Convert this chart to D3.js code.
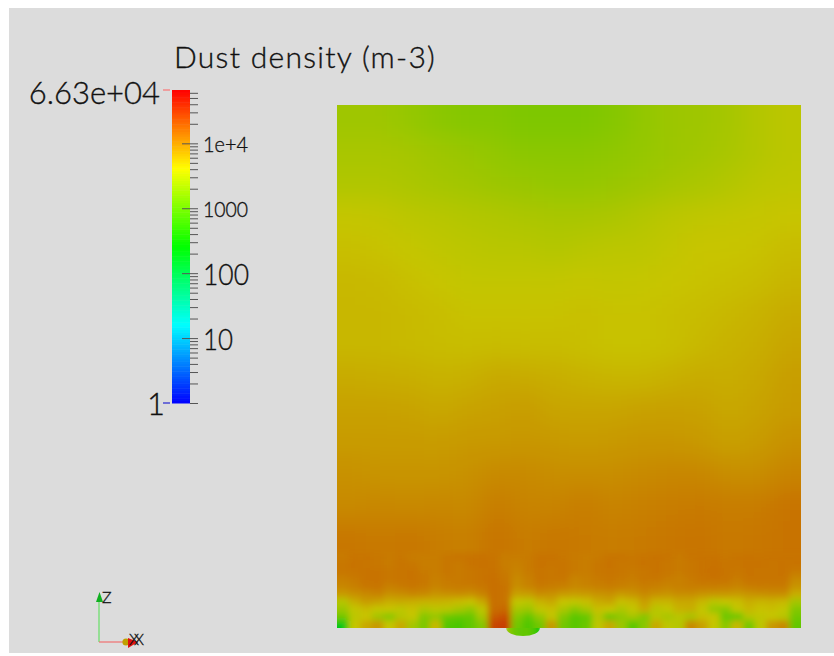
<!DOCTYPE html>
<html lang="en">
<head>
<meta charset="utf-8">
<title>Dust density</title>
<style>
  html, body { margin:0; padding:0; background:white; }
  svg { display:block; }
  text { font-family:Lato, sans-serif; font-weight:300; fill:#111; stroke:#111; stroke-width:0.35px; }
</style>
</head>
<body>
<div id="canvas"></div>
<script src="https://cdnjs.cloudflare.com/ajax/libs/d3/7.8.5/d3.min.js"></script>
<script>
// colour bar
var title = "Dust density (m-3)";
var rangeMin = 1, rangeMax = 66300;
var rangeLabels = ["6.63e+04", "1"];
var majorTicks = [10, 100, 1000, 10000];
var majorLabels = ["10", "100", "1000", "1e+4"];
var minorTicks = [2,3,4,5,6,7,8,9,20,30,40,50,60,70,80,90,200,300,400,500,600,700,800,900,
                  2000,3000,4000,5000,6000,7000,8000,9000,20000,30000,40000,50000,60000];
var colorStops = ["#0000ff", "#00ffff", "#00ff00", "#ffff00", "#ff0000"];
var litStops = ["#0000c8", "#00c8c8", "#00c800", "#c8c600", "#c80000"];

// log10 of density, coarse field, top rows first
var upperField = [
  [3.37,3.37,3.31,3.25,3.21,3.21,3.17,3.17,3.17,3.21,3.29,3.35,3.37,3.41,3.49,3.54],
  [3.43,3.43,3.41,3.37,3.33,3.29,3.25,3.25,3.25,3.27,3.31,3.35,3.39,3.43,3.49,3.54],
  [3.47,3.47,3.45,3.41,3.39,3.35,3.33,3.31,3.31,3.33,3.37,3.41,3.45,3.49,3.54,3.56],
  [3.60,3.58,3.54,3.52,3.49,3.47,3.45,3.43,3.43,3.45,3.49,3.54,3.56,3.58,3.60,3.62],
  [3.66,3.64,3.60,3.56,3.54,3.52,3.52,3.49,3.52,3.54,3.54,3.58,3.62,3.62,3.64,3.68],
  [3.70,3.69,3.65,3.62,3.58,3.58,3.58,3.58,3.60,3.58,3.60,3.62,3.64,3.66,3.68,3.72],
  [3.71,3.71,3.69,3.67,3.64,3.64,3.64,3.64,3.66,3.64,3.64,3.66,3.68,3.71,3.74,3.78],
  [3.71,3.71,3.69,3.68,3.67,3.68,3.67,3.68,3.66,3.64,3.64,3.66,3.70,3.74,3.76,3.82],
  [3.78,3.77,3.76,3.74,3.75,3.79,3.78,3.76,3.74,3.72,3.72,3.75,3.78,3.77,3.80,3.86],
  [3.84,3.84,3.83,3.80,3.83,3.85,3.87,3.82,3.82,3.82,3.84,3.85,3.84,3.80,3.83,3.88],
  [3.88,3.88,3.88,3.87,3.89,3.89,3.91,3.89,3.88,3.89,3.91,3.91,3.89,3.85,3.88,3.94],
  [3.94,3.92,3.92,3.92,3.94,3.98,3.98,3.96,3.96,3.96,3.98,4.00,4.00,3.96,3.96,4.02],
  [3.98,4.00,3.98,4.00,3.98,4.06,4.02,4.02,4.06,4.02,4.04,4.06,4.08,4.06,4.06,4.12],
  [4.10,4.08,4.10,4.06,4.04,4.12,4.06,4.10,4.08,4.06,4.08,4.10,4.12,4.08,4.10,4.12]
];

// log10 of density, fine field near the floor
var lowerField = [
  [4.08,4.11,4.11,4.10,4.08,4.10,4.06,4.06,4.06,4.10,4.11,4.12,4.13,4.11,4.06,4.06,4.08,4.12,4.12,4.10,4.08,4.06,4.08,4.11,4.11,4.10,4.11,4.12,4.11,4.08,4.11,4.12,4.12,4.10,4.11,4.12,4.11,4.12,4.12,4.12],
  [4.10,4.12,4.11,4.10,4.08,4.11,4.10,4.06,4.06,4.10,4.08,4.12,4.13,4.12,4.06,4.04,4.08,4.12,4.11,4.11,4.08,4.06,4.10,4.12,4.10,4.10,4.12,4.12,4.10,4.08,4.10,4.12,4.13,4.11,4.11,4.12,4.12,4.11,4.12,4.12],
  [4.10,4.11,4.12,4.12,4.10,4.11,4.12,4.08,4.06,4.10,4.08,4.10,4.12,4.13,4.08,4.02,4.08,4.11,4.10,4.11,4.08,4.06,4.10,4.11,4.10,4.08,4.10,4.12,4.10,4.08,4.10,4.12,4.14,4.11,4.10,4.12,4.11,4.11,4.12,4.08],
  [4.04,4.08,4.12,4.12,4.10,4.11,4.12,4.10,4.04,4.08,4.08,4.10,4.12,4.14,4.10,3.98,4.04,4.11,4.10,4.10,4.02,4.04,4.08,4.10,4.08,4.06,4.10,4.10,4.06,4.04,4.08,4.11,4.12,4.11,4.06,4.11,4.11,4.11,4.11,3.98],
  [4.00,4.04,4.10,4.11,4.04,4.08,4.10,4.08,4.02,4.06,4.08,4.08,4.10,4.14,4.12,3.96,4.02,4.08,4.06,4.04,4.00,4.02,4.04,4.06,4.04,4.02,4.06,4.04,4.02,4.04,4.06,4.06,4.06,4.04,4.02,4.06,4.08,4.08,4.08,3.92],
  [3.88,3.94,3.98,4.02,3.94,3.96,4.00,3.98,3.92,3.94,3.96,3.94,4.02,4.14,4.12,3.84,3.86,3.96,3.94,3.88,3.86,3.88,3.92,3.94,3.88,3.92,3.98,3.94,3.92,3.96,3.96,3.92,3.90,3.90,3.88,3.92,3.94,3.96,3.96,3.76],
  [3.50,3.76,3.88,3.84,3.76,3.78,3.76,3.74,3.74,3.72,3.68,3.64,3.80,4.14,4.12,3.58,3.54,3.74,3.80,3.62,3.58,3.66,3.78,3.82,3.66,3.70,3.86,3.72,3.72,3.80,3.80,3.70,3.54,3.60,3.66,3.76,3.72,3.74,3.70,3.40],
  [3.35,3.58,3.68,3.60,3.62,3.55,3.64,3.48,3.54,3.52,3.42,3.30,3.55,4.16,4.18,3.42,3.35,3.58,3.66,3.45,3.25,3.42,3.66,3.62,3.46,3.58,3.78,3.52,3.58,3.74,3.76,3.58,3.30,3.25,3.58,3.70,3.64,3.66,3.58,3.20],
  [3.10,3.54,3.62,3.38,3.20,3.50,3.60,3.20,3.30,3.05,3.00,3.02,3.42,4.26,4.34,3.22,3.00,3.30,3.58,3.20,2.95,3.02,3.50,3.05,3.28,3.42,3.20,3.52,3.42,3.52,3.42,3.66,3.62,3.05,3.00,3.50,3.56,3.60,3.52,3.10],
  [2.30,3.60,3.80,3.90,3.60,3.80,3.40,3.15,3.70,2.90,2.85,3.00,3.20,4.40,4.46,3.10,2.90,3.10,3.90,3.10,2.95,3.05,3.55,3.80,3.35,2.95,3.25,3.80,3.55,3.50,4.00,3.85,3.60,3.25,3.70,3.10,3.55,3.90,4.00,3.00]
];

// log10 of density inside the bump under the floor
var bumpField = [3.30,3.15,3.05,3.00,3.00,3.00,2.95,2.85,2.60];

var width = 834, height = 656;
var plot = {left:337, right:801, top:105, bottom:628};
var lowerTop = 553;
var bar = {left:172, right:190, top:90, bottom:403};

var svg = d3.select("#canvas").append("svg")
    .attr("width", width)
    .attr("height", height);

svg.append("rect")
    .attr("x", 9).attr("y", 8)
    .attr("width", width - 9).attr("height", 645)
    .attr("fill", "#dcdcdc");

var defs = svg.append("defs");
defs.append("clipPath").attr("id", "plotClip").append("rect")
    .attr("x", plot.left).attr("y", plot.top)
    .attr("width", plot.right - plot.left).attr("height", plot.bottom - plot.top);
defs.append("clipPath").attr("id", "bumpClip").append("ellipse")
    .attr("cx", 523).attr("cy", 628).attr("rx", 17).attr("ry", 8);
defs.append("filter").attr("id", "blurWide")
    .attr("filterUnits", "userSpaceOnUse")
    .attr("x", 250).attr("y", 20).attr("width", 640).attr("height", 680)
  .append("feGaussianBlur").attr("stdDeviation", 12);
defs.append("filter").attr("id", "blurFine")
    .attr("filterUnits", "userSpaceOnUse")
    .attr("x", 300).attr("y", 500).attr("width", 540).attr("height", 156)
  .append("feGaussianBlur").attr("stdDeviation", 3.2);
defs.append("filter").attr("id", "blurBump")
    .attr("filterUnits", "userSpaceOnUse")
    .attr("x", 490).attr("y", 610).attr("width", 70).attr("height", 40)
  .append("feGaussianBlur").attr("stdDeviation", 1.5);

// colour scales work on log10 density
var logMax = Math.log10(rangeMax);
var stopDomain = colorStops.map(function(c, i) { return logMax * i / (colorStops.length - 1); });
var barColor = d3.scaleLinear().domain(stopDomain).range(colorStops).clamp(true);
var fieldColor = d3.scaleLinear().domain(stopDomain).range(litStops).clamp(true);

// draws a grid of cells, edge cells run past the clip so the blur doesn't fade at the border
function drawField(parent, field, top, bottom, bleedTop, bleedBottom) {
  var x = d3.scaleBand().domain(d3.range(field[0].length)).range([plot.left, plot.right]);
  var y = d3.scaleBand().domain(d3.range(field.length)).range([top, bottom]);
  var nCols = field[0].length, nRows = field.length;
  field.forEach(function(row, r) {
    parent.selectAll("rect.r" + r)
        .data(row)
      .enter().append("rect")
        .attr("class", "r" + r)
        .attr("x", function(d, c) { return c === 0 ? x(c) - 60 : x(c); })
        .attr("width", function(d, c) { return x.bandwidth() + (c === 0 || c === nCols - 1 ? 60 : 0) + 0.5; })
        .attr("y", r === 0 ? y(r) - bleedTop : y(r))
        .attr("height", y.bandwidth() + (r === 0 ? bleedTop : 0) + (r === nRows - 1 ? bleedBottom : 0) + 0.5)
        .attr("fill", function(d) { return fieldColor(d); });
  });
}

// bump below the floor goes first, the field covers its upper half
var bumpX = d3.scaleBand().domain(d3.range(bumpField.length)).range([506, 540]);
svg.append("g").attr("clip-path", "url(#bumpClip)")
  .append("g").attr("filter", "url(#blurBump)")
  .selectAll("rect")
    .data(bumpField)
  .enter().append("rect")
    .attr("x", function(d, i) { return bumpX(i); })
    .attr("width", bumpX.bandwidth() + 0.5)
    .attr("y", 618)
    .attr("height", 28)
    .attr("fill", function(d) { return fieldColor(d); });

var plotGroup = svg.append("g").attr("clip-path", "url(#plotClip)");
drawField(plotGroup.append("g").attr("filter", "url(#blurWide)"), upperField, plot.top, lowerTop, 60, 60);
drawField(plotGroup.append("g").attr("filter", "url(#blurFine)"), lowerField, lowerTop, plot.bottom, 0, 12);

// colour bar
var barY = d3.scaleLog().domain([rangeMin, rangeMax]).range([bar.bottom, bar.top]);
var barSteps = d3.range(0, 128);
var stepH = (bar.bottom - bar.top) / barSteps.length;
svg.append("g").selectAll("rect")
    .data(barSteps)
  .enter().append("rect")
    .attr("x", bar.left)
    .attr("width", bar.right - bar.left)
    .attr("y", function(d) { return bar.bottom - (d + 1) * stepH; })
    .attr("height", stepH + 0.5)
    .attr("fill", function(d) { return barColor(logMax * (d + 0.5) / barSteps.length); });

var minorAxis = d3.axisRight(barY).tickValues(minorTicks.concat([rangeMin])).tickSize(8).tickFormat("");
var minorG = svg.append("g")
    .attr("transform", "translate(" + bar.right + ",0)")
    .call(minorAxis);
minorG.select(".domain").remove();
minorG.selectAll("line").attr("stroke", "#555");

var majorAxis = d3.axisRight(barY).tickValues(majorTicks).tickSize(16).tickFormat("");
var majorG = svg.append("g")
    .attr("transform", "translate(" + (bar.right - 8) + ",0)")
    .call(majorAxis);
majorG.select(".domain").remove();
majorG.selectAll("line").attr("stroke", "#555");

var labelSizes = [30, 30, 21, 21];
var labelWidths = [30, 46, 45, 45];
svg.append("g").selectAll("text")
    .data(majorTicks)
  .enter().append("text")
    .attr("x", 203)
    .attr("y", function(d) { return barY(d) + 1; })
    .attr("dy", "0.35em")
    .attr("textLength", function(d, i) { return labelWidths[i]; })
    .attr("lengthAdjust", "spacingAndGlyphs")
    .style("font-size", function(d, i) { return labelSizes[i] + "px"; })
    .text(function(d, i) { return majorLabels[i]; });

// end of range labels with their coloured ticks
svg.append("line")
    .attr("x1", 163).attr("x2", 170)
    .attr("y1", barY(rangeMax)).attr("y2", barY(rangeMax))
    .attr("stroke", "#ff6060");
svg.append("line")
    .attr("x1", 163).attr("x2", 170)
    .attr("y1", barY(rangeMin)).attr("y2", barY(rangeMin))
    .attr("stroke", "#0000d0");
svg.append("text")
    .attr("x", 160).attr("y", barY(rangeMax) + 3)
    .attr("dy", "0.35em")
    .style("text-anchor", "end")
    .style("font-size", "31px")
    .text(rangeLabels[0]);
svg.append("text")
    .attr("x", 165).attr("y", barY(rangeMin) + 1)
    .attr("dy", "0.35em")
    .style("text-anchor", "end")
    .style("font-size", "31px")
    .text(rangeLabels[1]);

svg.append("text")
    .attr("x", 174).attr("y", 68)
    .style("font-size", "30px")
    .style("letter-spacing", "1.3px")
    .text(title);

// axes triad
var triad = svg.append("g");
triad.append("line").attr("x1", 99).attr("x2", 99).attr("y1", 642).attr("y2", 600)
    .attr("stroke", "#66e066").attr("stroke-width", 1.2);
triad.append("line").attr("x1", 99).attr("x2", 127).attr("y1", 642).attr("y2", 642)
    .attr("stroke", "#f07070").attr("stroke-width", 1.2);
triad.append("path").attr("d", "M99.5,592L103,602L96,602Z").attr("fill", "#10b020");
triad.append("circle").attr("cx", 126).attr("cy", 642).attr("r", 3.6).attr("fill", "#c0a000");
triad.append("path").attr("d", "M138,642L128,648L128,638Z").attr("fill", "#e01010");
triad.append("text").attr("x", 102).attr("y", 603).style("font-size", "16px").text("Z");
triad.append("text").attr("x", 129).attr("y", 645).style("font-size", "16px").style("letter-spacing", "-5px").text("XX");
</script>
</body>
</html>
